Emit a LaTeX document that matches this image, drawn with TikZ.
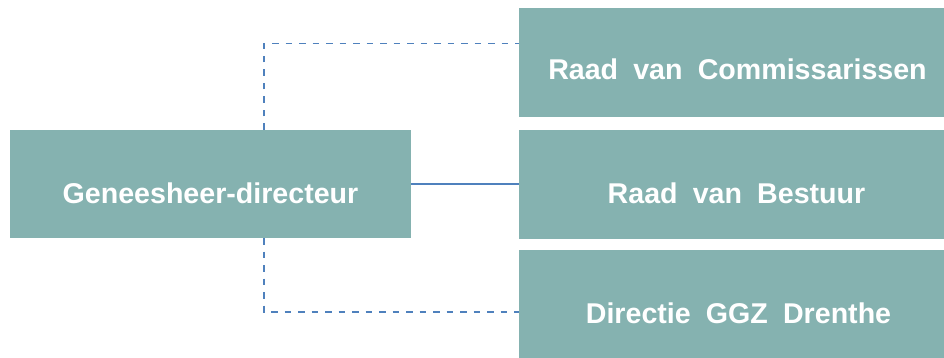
\documentclass[tikz,border=0pt]{standalone}
\usepackage{fontspec}
\setmainfont{Liberation Sans}
\usetikzlibrary{calc}
\definecolor{boxteal}{HTML}{85B2B0}
\definecolor{linkblue}{HTML}{4F81BD}
\newcommand{\wgap}{\hspace{0.53em}}
\tikzset{
  orgbox/.style={rectangle, fill=boxteal, draw=none, inner sep=0pt},
  orgtext/.style={text=white, font=\bfseries\fontsize{28.6}{32}\selectfont, anchor=base, inner sep=0pt},
  dashlink/.style={draw=linkblue, line width=1.8pt, dash pattern=on 6.5pt off 7pt},
  solidlink/.style={draw=linkblue, line width=1.8pt}
}
\begin{document}
\begin{tikzpicture}[x=1pt,y=-1pt]
\useasboundingbox (0,0) rectangle (944,358);
\node[orgbox, minimum width=401pt, minimum height=108pt] (L) at (210.5,184) {};
\node[orgbox, minimum width=425pt, minimum height=109pt] (T) at (731.5,62.5) {};
\node[orgbox, minimum width=425pt, minimum height=109pt] (M) at (731.5,184.5) {};
\node[orgbox, minimum width=425pt, minimum height=108pt] (B) at (731.5,304) {};
\node[orgtext] (Lt) at (210.5,203) {Geneesheer-directeur};
\node[orgtext] (Tt) at (737.5,80) {Raad\wgap van\wgap Commissarissen};
\node[orgtext] (Mt) at (736.5,203) {Raad\wgap van\wgap Bestuur};
\node[orgtext] (Bt) at (738.5,323) {Directie\wgap GGZ\wgap Drenthe};
\draw[dashlink] ([xshift=254pt]L.north west) |- ([yshift=19pt]T.west);
\draw[dashlink] ([xshift=254pt]L.south west) |- ([yshift=-8pt]B.west);
\draw[solidlink] (L.east) -- (M.west |- L.east);
\end{tikzpicture}
\end{document}
